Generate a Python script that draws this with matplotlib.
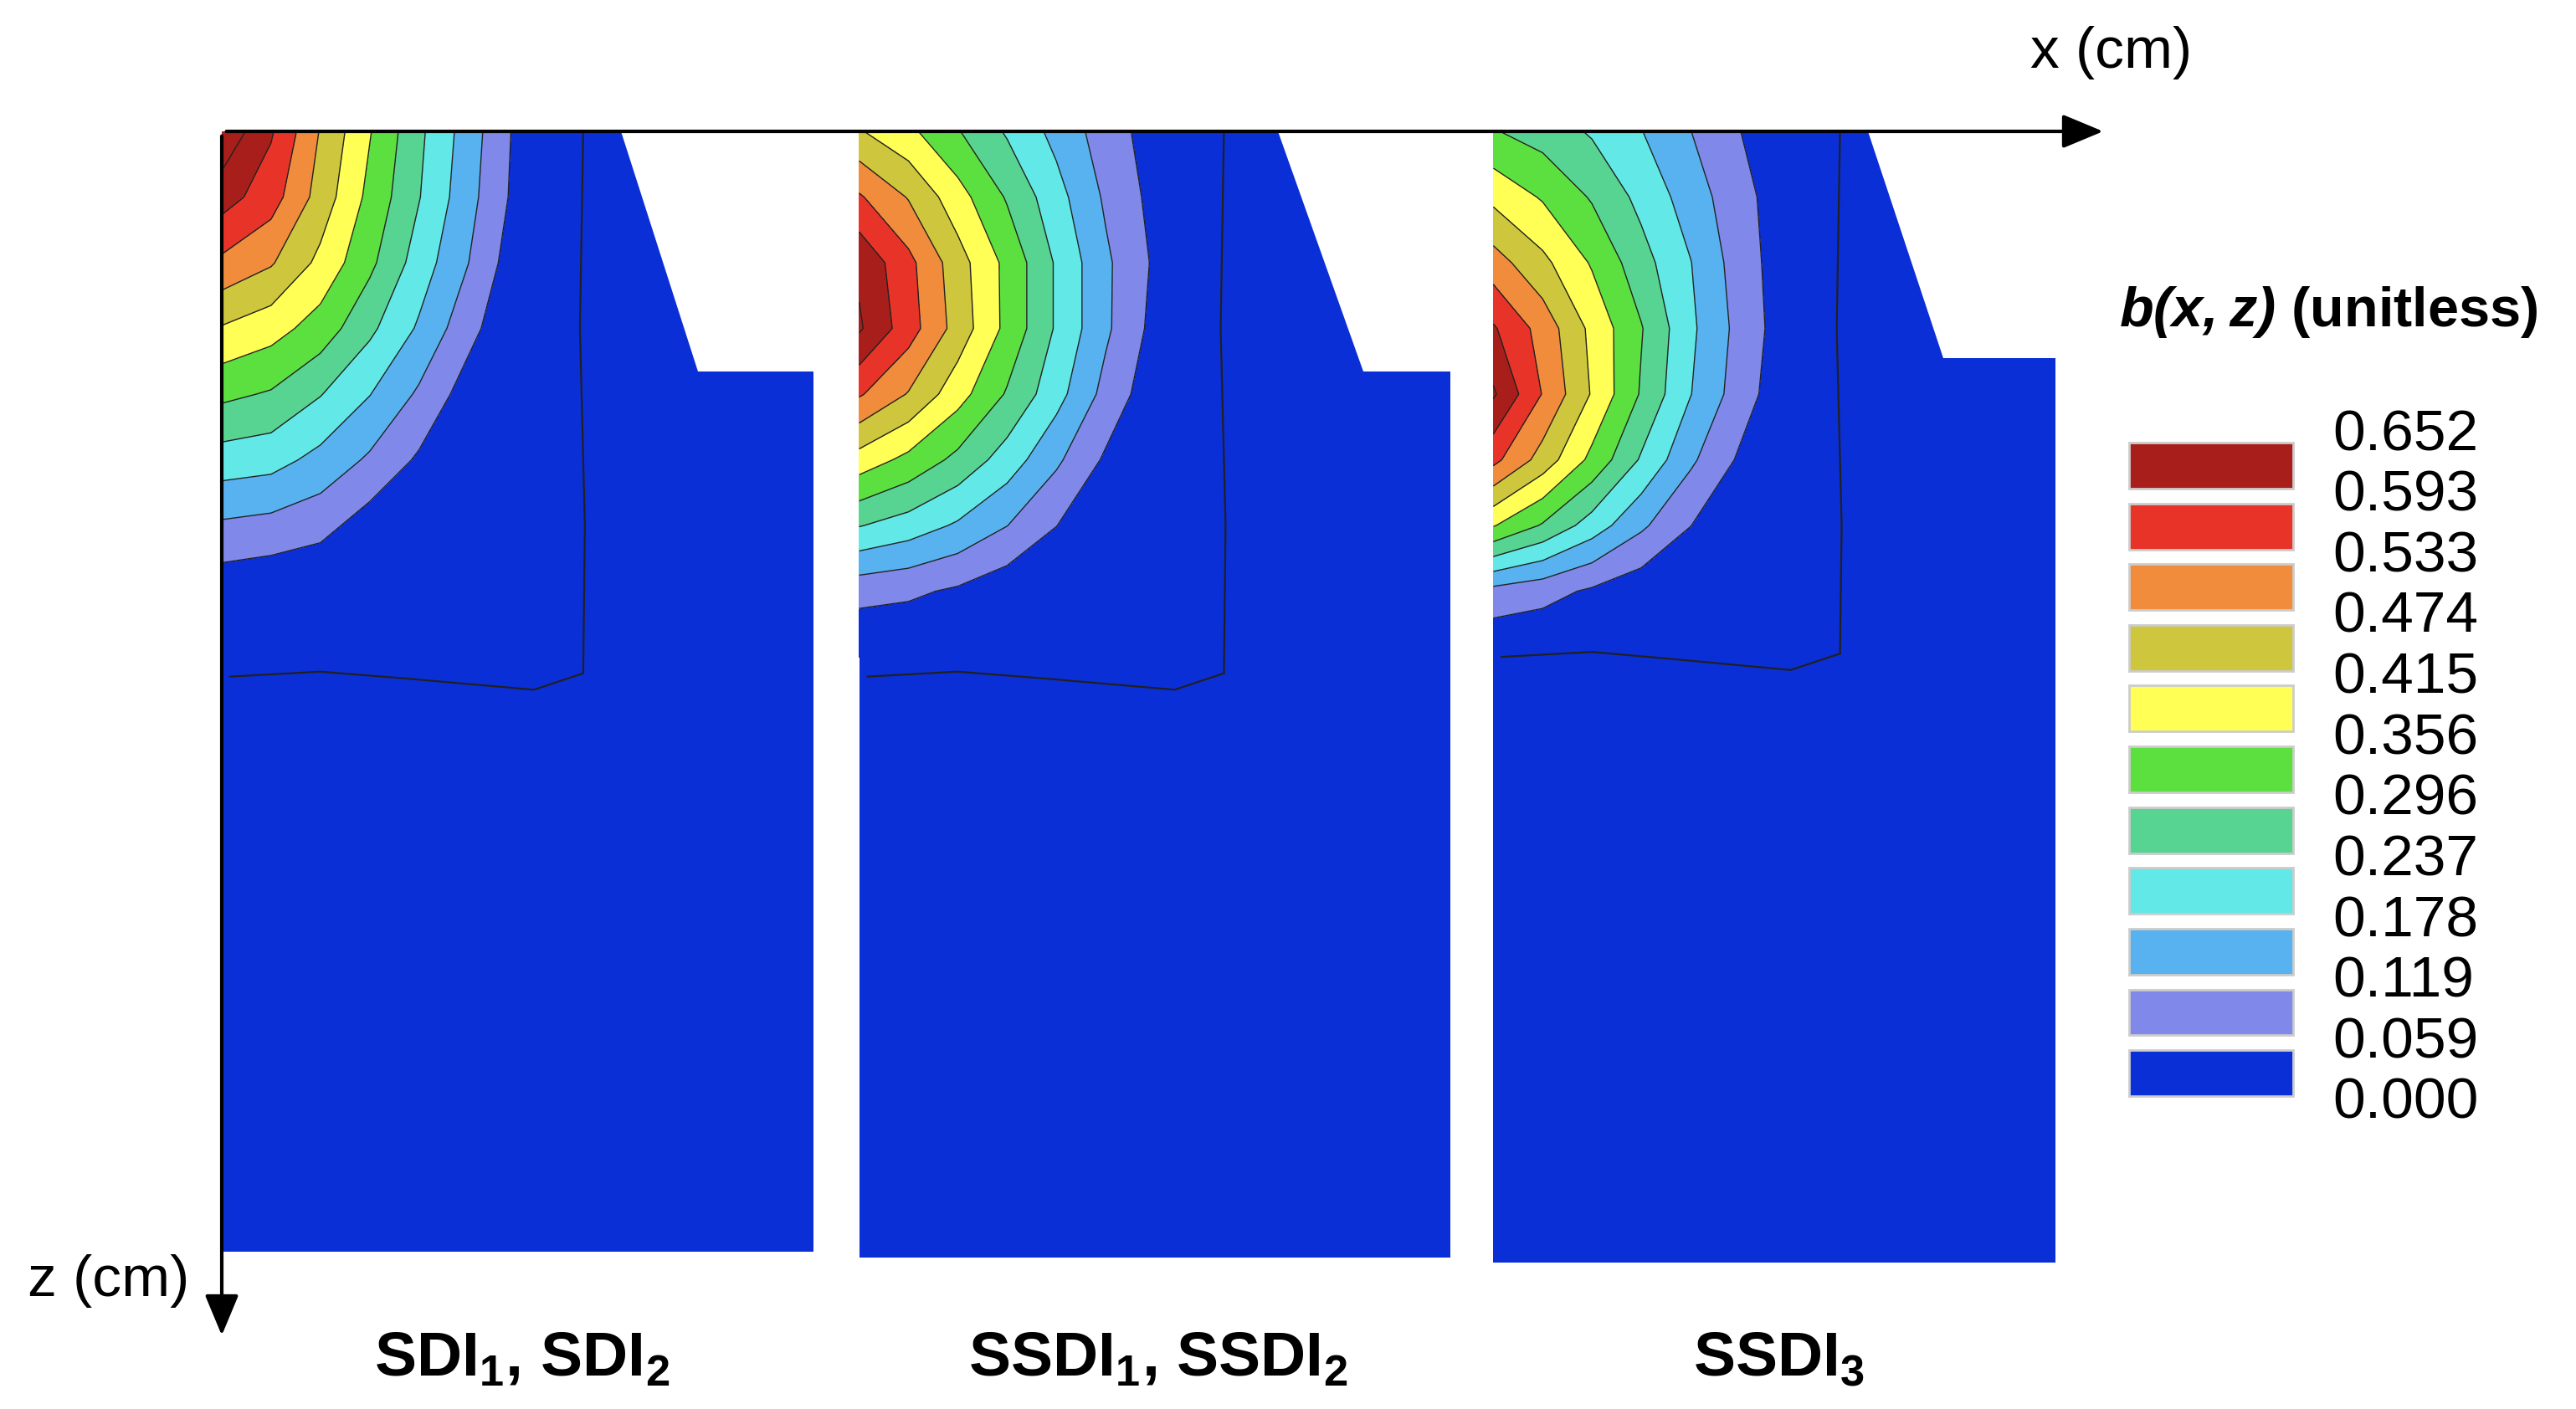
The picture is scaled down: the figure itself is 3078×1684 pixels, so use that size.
import numpy as np
import matplotlib.pyplot as plt
from matplotlib.patches import Polygon, Rectangle, FancyArrowPatch

plt.rcParams["font.family"] = ["Liberation Sans", "DejaVu Sans"]
plt.rcParams["mathtext.fontset"] = "custom"
plt.rcParams["mathtext.rm"] = "Liberation Sans"
plt.rcParams["mathtext.bf"] = "Liberation Sans:bold"
plt.rcParams["mathtext.bfit"] = "Liberation Sans:bold:italic"

# ---- legend levels / colours ----
levels = [0.000, 0.059, 0.119, 0.178, 0.237, 0.296, 0.356, 0.415, 0.474, 0.533, 0.593, 0.652]
band_colors = ["#0B2FD6", "#8088EA", "#58B2F0", "#62E8E6", "#58D492", "#5CE040",
               "#FFFF55", "#CEC63C", "#F08C3C", "#E83428", "#A81E1A"]

# ---- coarse field samples (rows: depth offsets, cols: width offsets), in picture units ----
dx = [0, 30, 60, 90, 120, 150, 180, 210]
dz = [0, 40, 80, 120, 160, 200, 240, 280, 320]

b_sdi = [
    [0.70, 0.60, 0.47, 0.36, 0.25, 0.15, 0.045, 0],
    [0.62, 0.56, 0.45, 0.34, 0.24, 0.14, 0.04, 0],
    [0.52, 0.48, 0.40, 0.31, 0.21, 0.12, 0.02, 0],
    [0.41, 0.38, 0.33, 0.25, 0.17, 0.08, 0, 0],
    [0.31, 0.29, 0.24, 0.18, 0.11, 0.03, 0, 0],
    [0.21, 0.20, 0.16, 0.11, 0.05, 0, 0, 0],
    [0.11, 0.10, 0.08, 0.03, 0, 0, 0, 0],
    [0.02, 0.01, 0, 0, 0, 0, 0, 0],
    [0, 0, 0, 0, 0, 0, 0, 0],
]
b_ssdi12 = [
    [0.42, 0.37, 0.30, 0.23, 0.16, 0.09, 0.03, 0],
    [0.54, 0.47, 0.38, 0.29, 0.20, 0.11, 0.04, 0],
    [0.64, 0.55, 0.44, 0.34, 0.23, 0.13, 0.05, 0],
    [0.66, 0.56, 0.45, 0.34, 0.23, 0.13, 0.04, 0],
    [0.54, 0.47, 0.38, 0.29, 0.20, 0.10, 0.02, 0],
    [0.39, 0.34, 0.28, 0.21, 0.13, 0.05, 0, 0],
    [0.24, 0.21, 0.17, 0.12, 0.06, 0.01, 0, 0],
    [0.08, 0.07, 0.05, 0.02, 0, 0, 0, 0],
    [0, 0, 0, 0, 0, 0, 0, 0],
]
b_ssdi3 = [
    [0.30, 0.27, 0.23, 0.18, 0.12, 0.06, 0.01, 0],
    [0.40, 0.35, 0.29, 0.22, 0.15, 0.08, 0.02, 0],
    [0.50, 0.43, 0.35, 0.26, 0.18, 0.09, 0.02, 0],
    [0.60, 0.51, 0.40, 0.30, 0.19, 0.10, 0.02, 0],
    [0.66, 0.53, 0.41, 0.29, 0.18, 0.09, 0.01, 0],
    [0.55, 0.45, 0.34, 0.23, 0.13, 0.05, 0, 0],
    [0.36, 0.29, 0.21, 0.13, 0.06, 0.01, 0, 0],
    [0.10, 0.08, 0.05, 0.02, 0, 0, 0, 0],
    [0, 0, 0, 0, 0, 0, 0, 0],
]

panel_labels = [r"SDI$_\mathbf{1}$, SDI$_\mathbf{2}$", r"SSDI$_\mathbf{1}$, SSDI$_\mathbf{2}$", r"SSDI$_\mathbf{3}$"]
label_x = [318, 705, 1083]
# panel frame: left, right, bottom, notch top x, notch bottom x, notch y, wetting box x, box y
panels = [
    dict(l=135, r=495, b=762, nt=378, nb=425, ny=226, bx=355, by=410, data=b_sdi),
    dict(l=523, r=883, b=766, nt=778, nb=830, ny=226, bx=745, by=410, data=b_ssdi12),
    dict(l=909, r=1251, b=769, nt=1137, nb=1183, ny=218, bx=1120, by=398, data=b_ssdi3),
]
TOP = 80

fig = plt.figure(figsize=(15.39, 8.42), dpi=200)
ax = fig.add_axes([0, 0, 1, 1])
ax.set_xlim(0, 1568)
ax.set_ylim(858, 0)
ax.axis("off")

for p in panels:
    ax.add_patch(Rectangle((p["l"], TOP), p["r"] - p["l"], p["b"] - TOP,
                           facecolor=band_colors[0], edgecolor="none", zorder=1))
    X, Z = np.meshgrid(np.array(dx) + p["l"], np.array(dz) + TOP)
    V = np.array(p["data"])
    ax.contourf(X, Z, V, levels=levels, colors=band_colors, extend="max", zorder=2)
    ax.contour(X, Z, V, levels=levels[1:], colors="#222222", linewidths=0.5, zorder=3)
    # notch (outside domain)
    ax.add_patch(Polygon([(p["nt"], TOP), (p["r"] + 1, TOP), (p["r"] + 1, p["ny"]),
                          (p["nb"], p["ny"])], closed=True, facecolor="white",
                         edgecolor="none", zorder=4))
    # wetting front outline
    ax.plot([p["bx"], p["bx"] - 2, p["bx"] + 1, p["bx"]], [TOP, 200, 320, p["by"]],
            color="#202020", lw=0.8, zorder=5)
    ax.plot([p["l"] + 5, p["l"] + 60, (p["l"] + p["bx"]) / 2, p["bx"] - 30, p["bx"]],
            [p["by"] + 2, p["by"] - 1, p["by"] + 3, p["by"] + 10, p["by"]],
            color="#202020", lw=0.8, zorder=5)

for lx, lab in zip(label_x, panel_labels):
    ax.text(lx, 828, lab, fontsize=27, fontweight="bold", ha="center", va="center")

# axes arrows
ax.add_patch(FancyArrowPatch((135, TOP), (1283, TOP), arrowstyle="-|>,head_length=6,head_width=2.5",
                             mutation_scale=2.5, color="black", lw=1.5, zorder=6))
ax.add_patch(FancyArrowPatch((135, TOP), (135, 816), arrowstyle="-|>,head_length=6,head_width=2.5",
                             mutation_scale=2.5, color="black", lw=1.5, zorder=6))
ax.text(1285, 32, "x (cm)", fontsize=25, ha="center", va="center")
ax.text(66, 780, "z (cm)", fontsize=25, ha="center", va="center")

# legend
ax.text(1290, 190, r"$\mathbfit{b(x,z)}$ (unitless)", fontsize=24, fontweight="bold",
        ha="left", va="center")
label_y = np.linspace(265, 672, len(levels))
for i, lv in enumerate(levels[::-1]):
    ax.text(1420, label_y[i], f"{lv:.3f}", fontsize=25, ha="left", va="center")
for i, c in enumerate(band_colors[::-1]):
    yc = (label_y[i] + label_y[i + 1]) / 2
    ax.add_patch(Rectangle((1296, yc - 14), 100, 28, facecolor=c,
                           edgecolor="#cccccc", lw=1))

fig.savefig("out.png", dpi=200)
